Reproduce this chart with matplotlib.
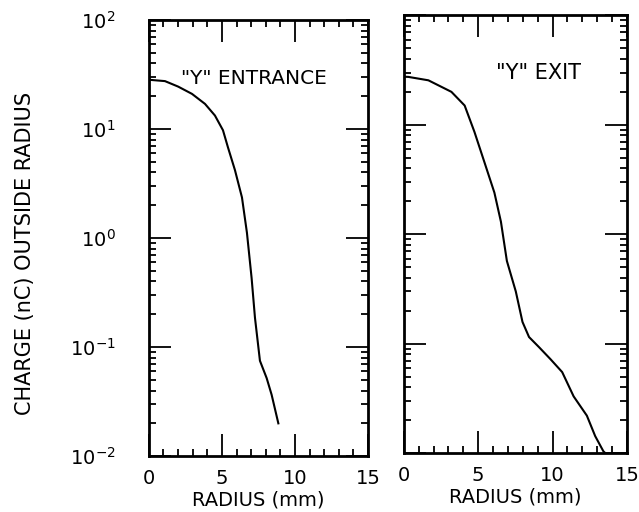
import numpy as np
import matplotlib
matplotlib.use('Agg')
import matplotlib.pyplot as plt
from matplotlib.ticker import LogLocator, MultipleLocator, NullFormatter

# Charge outside radius
entrance_r = [0, 1.1, 2.0, 2.95, 3.84, 4.52, 5.07, 5.41, 5.89, 6.37, 6.71, 7.03, 7.26, 7.6, 8.06, 8.4, 8.86]
entrance_q = [28.3, 27.5, 24.5, 21, 17, 13.3, 9.75, 6.8, 4.2, 2.36, 1.12, 0.43, 0.186, 0.075, 0.052, 0.0366, 0.020]

exit_r = [0, 0.3, 1.65, 3.2, 4.09, 4.75, 5.42, 6.09, 6.53, 6.93, 7.53, 7.98, 8.42, 9.09,
          9.87, 10.65, 11.42, 12.31, 12.87, 13.42, 13.55]
exit_q = [27.5, 27.4, 25.5, 20, 15, 8.6, 4.55, 2.4, 1.3, 0.57, 0.30, 0.158, 0.115, 0.093,
          0.072, 0.055, 0.033, 0.022, 0.0143, 0.0104, 0.01]

x_ticks = [0, 5, 10, 15]
y_ticks = [1e-2, 1e-1, 1e0, 1e1, 1e2]
y_tick_labels = ['$10^{-2}$', '$10^{-1}$', '$10^{0}$', '$10^{1}$', '$10^{2}$']

fig = plt.figure(figsize=(6.39, 5.12), dpi=100)
ax1 = fig.add_axes([0.233, 0.109, 0.343, 0.852])
ax2 = fig.add_axes([0.632, 0.115, 0.349, 0.855])


def style_axis(ax, show_ylabels):
    ax.set_yscale('log')
    ax.set_xlim(0, 15)
    ax.set_ylim(1e-2, 1e2)
    ax.set_xticks(x_ticks)
    ax.xaxis.set_minor_locator(MultipleLocator(1))
    ax.set_yticks(y_ticks)
    ax.yaxis.set_minor_locator(LogLocator(base=10, subs=np.arange(2, 10)))
    ax.yaxis.set_minor_formatter(NullFormatter())
    if show_ylabels:
        ax.set_yticklabels(y_tick_labels)
    else:
        ax.set_yticklabels([])
    ax.tick_params(which='both', direction='in', top=True, right=True,
                   labelsize=14, width=1.3)
    ax.tick_params(axis='x', pad=9)
    ax.tick_params(axis='y', pad=24)
    ax.tick_params(which='major', length=16)
    ax.tick_params(which='minor', length=5)
    for sp in ax.spines.values():
        sp.set_linewidth(2)
    ax.set_xlabel('RADIUS (mm)', fontsize=14, labelpad=2)


style_axis(ax1, True)
style_axis(ax2, False)

ax1.plot(entrance_r, entrance_q, color='black', lw=1.5)
ax2.plot(exit_r, exit_q, color='black', lw=1.5)

ax1.text(2.2, 29, '"Y" ENTRANCE', fontsize=14.5, ha='left', va='center')
ax2.text(6.2, 30, '"Y" EXIT', fontsize=15, ha='left', va='center')

ax1.set_ylabel('CHARGE (nC) OUTSIDE RADIUS', fontsize=15)
ax1.yaxis.set_label_coords(-0.52, 0.464)

fig.savefig('out.png', dpi=100)
